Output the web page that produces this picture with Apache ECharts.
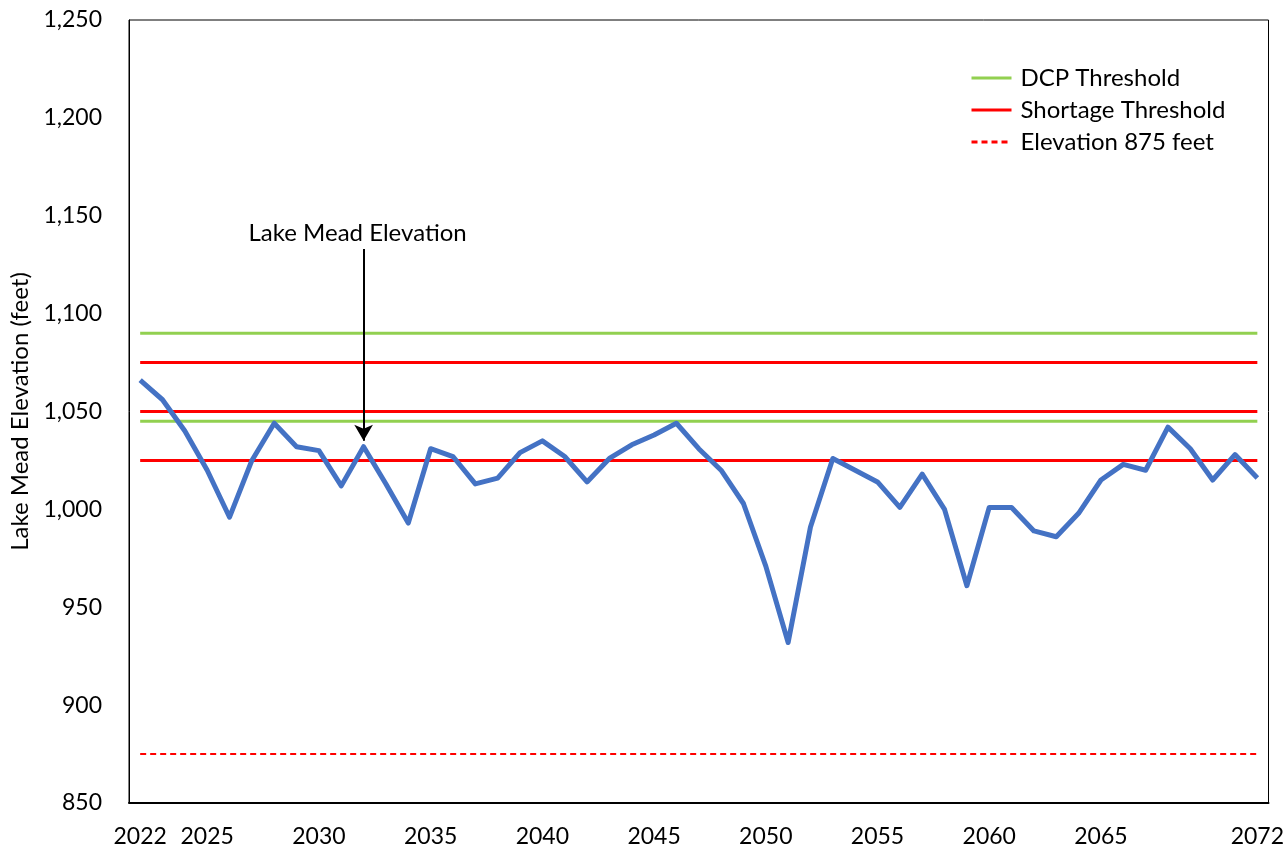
<!DOCTYPE html>
<html>
<head>
<meta charset="utf-8">
<title>Lake Mead Elevation</title>
<script src="https://cdn.jsdelivr.net/npm/echarts@6/dist/echarts.min.js"></script>
<style>
  html, body { margin: 0; padding: 0; background: #fff; }
  #chart { width: 1287px; height: 851px; }
</style>
</head>
<body>
<div id="chart"></div>
<script>
// years on the x axis
const years = [];
for (let y = 2022; y <= 2072; y++) years.push(y);

// Lake Mead elevation (feet), one value per year 2022..2072
const elevation = [
  1066, 1056, 1040, 1020, 996, 1025, 1044, 1032, 1030, 1012,
  1032, 1013, 993, 1031, 1027, 1013, 1016, 1029, 1035, 1027,
  1014, 1026, 1033, 1038, 1044, 1031, 1020, 1003, 971, 932,
  991, 1026, 1020, 1014, 1001, 1018, 1000, 961, 1001, 1001,
  989, 986, 998, 1015, 1023, 1020, 1042, 1031, 1015, 1028, 1016
];

// horizontal reference levels
const dcpLevels = [1090, 1045];
const shortageLevels = [1075, 1050, 1025];
const elevation875 = [875];

// x tick labels shown
const xTickLabels = [2022, 2025, 2030, 2035, 2040, 2045, 2050, 2055, 2060, 2065, 2072];

// annotation arrow
const annoYear = 2032;
const annoFrom = 1133;
const annoTo = 1035;

const FONT = 'Lato';

function levelSeries(name, value, color, width, type) {
  return {
    name: name,
    type: 'line',
    data: [[years[0], value], [years[years.length - 1], value]],
    symbol: 'none',
    silent: true,
    lineStyle: { color: color, width: width, type: type },
    itemStyle: { color: color },
    z: 2
  };
}

const series = [];
dcpLevels.forEach(v => series.push(levelSeries('DCP Threshold', v, '#92D050', 3, 'solid')));
shortageLevels.forEach(v => series.push(levelSeries('Shortage Threshold', v, '#FF0000', 3, 'solid')));
elevation875.forEach(v => series.push(levelSeries('Elevation 875 feet', v, '#FF0000', 2, [6, 4])));

series.push({
  name: 'Lake Mead Elevation',
  type: 'line',
  data: years.map((y, i) => [y, elevation[i]]),
  symbol: 'none',
  lineStyle: { color: '#4472C4', width: 5, join: 'round' },
  itemStyle: { color: '#4472C4' },
  z: 3,
  markLine: {
    silent: true,
    symbol: ['none', 'arrow'],
    symbolSize: [14, 16],
    lineStyle: { color: '#000', width: 2, type: 'solid' },
    label: {
      show: true,
      position: 'start',
      formatter: 'Lake Mead Elevation',
      color: '#000',
      fontFamily: FONT,
      fontSize: 24,
      distance: 4,
      padding: [0, 12, 0, 0]
    },
    data: [[
      { coord: [annoYear, annoFrom] },
      { coord: [annoYear, annoTo] }
    ]]
  }
});

const chart = echarts.init(document.getElementById('chart'));
chart.setOption({
  animation: false,
  backgroundColor: '#fff',
  textStyle: { fontFamily: FONT },
  grid: {
    left: 127, right: 17, top: 20, bottom: 48,
    show: true,
    borderColor: '#000',
    borderWidth: 1
  },
  legend: {
    data: ['DCP Threshold', 'Shortage Threshold', 'Elevation 875 feet'],
    orient: 'vertical',
    left: 965,
    top: 61,
    itemWidth: 40,
    itemHeight: 14,
    itemGap: 8,
    itemStyle: { opacity: 0 },
    lineStyle: { width: 3 },
    textStyle: { fontFamily: FONT, fontSize: 24, color: '#000', padding: [0, 0, 0, 4] }
  },
  xAxis: {
    type: 'value',
    min: 2021.5,
    max: 2072.5,
    splitLine: { show: false },
    axisTick: { show: false },
    axisLine: { show: true, lineStyle: { color: '#000', width: 2 } },
    axisLabel: {
      customValues: xTickLabels,
      color: '#000',
      fontFamily: FONT,
      fontSize: 23,
      margin: 22,
      formatter: v => String(v)
    }
  },
  yAxis: {
    type: 'value',
    min: 850,
    max: 1250,
    interval: 50,
    name: 'Lake Mead Elevation (feet)',
    nameLocation: 'middle',
    nameGap: 97,
    nameTextStyle: { color: '#000', fontFamily: FONT, fontSize: 24 },
    splitLine: { show: false },
    axisTick: { show: false },
    axisLine: { show: true, lineStyle: { color: '#000', width: 1 } },
    axisLabel: {
      color: '#000',
      fontFamily: FONT,
      fontSize: 23,
      margin: 27,
      formatter: v => v.toLocaleString('en-US')
    }
  },
  series: series
});
</script>
</body>
</html>
